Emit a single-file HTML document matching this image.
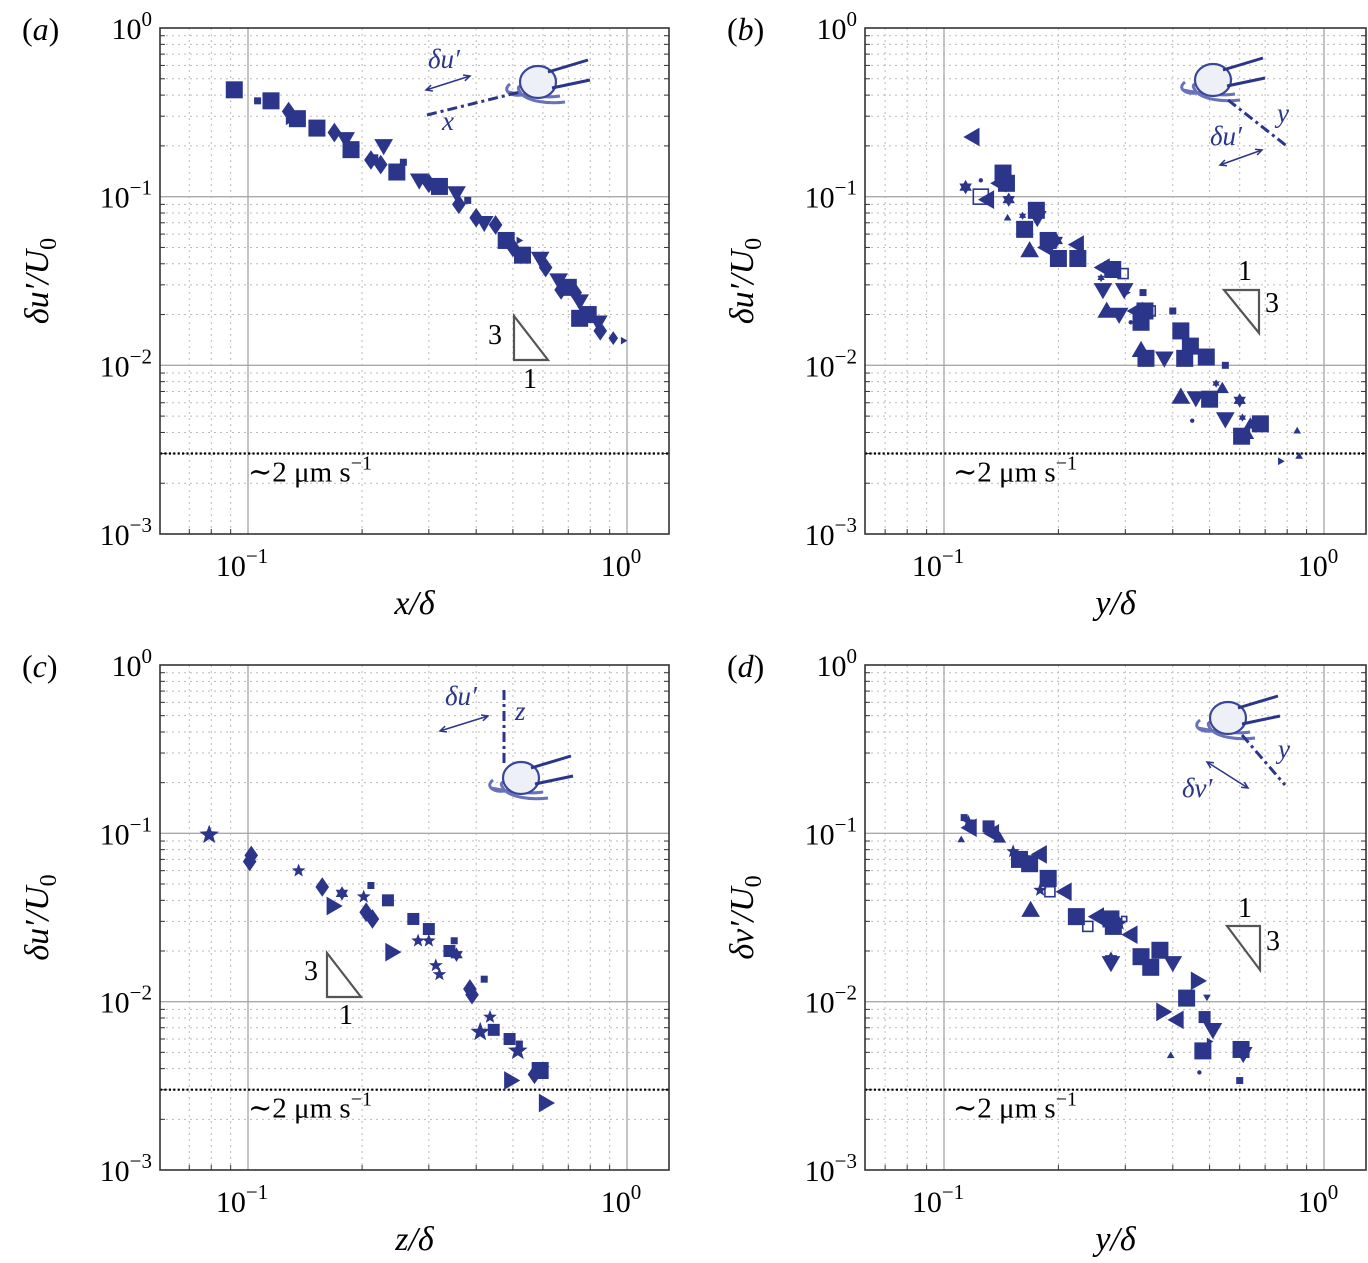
<!DOCTYPE html>
<html><head><meta charset="utf-8"><style>
html,body{margin:0;padding:0;background:#fff}
svg{display:block;font-family:"Liberation Serif","DejaVu Serif",serif}
</style></head><body>
<svg id="fig" width="1368" height="1263" viewBox="0 0 1368 1263"></svg>
<script>
// ---------- data ----------
const xTickVals = [0.1, 1];
const yTickVals = [1, 0.1, 0.01, 0.001];
const noiseLevel = 0.003;

const aX = [0.092,0.106,0.115,0.128,0.128,0.135,0.152,0.169,0.181,0.187,0.228,0.211,0.216,0.224,0.247,0.257,0.283,0.30,0.32,0.355,0.36,0.38,0.40,0.42,0.45,0.48,0.50,0.52,0.53,0.59,0.61,0.66,0.70,0.73,0.75,0.79,0.84,0.85,0.92,0.98,0.75,0.67];
const aY = [0.43,0.37,0.37,0.32,0.28,0.29,0.255,0.24,0.22,0.19,0.2,0.165,0.17,0.155,0.14,0.16,0.125,0.12,0.115,0.105,0.09,0.095,0.075,0.07,0.068,0.055,0.05,0.055,0.045,0.043,0.038,0.032,0.029,0.027,0.024,0.02,0.018,0.016,0.0145,0.014,0.019,0.028];
const aK = ["sL","sS","sL","dL","rS","sL","sL","dL","vL","sL","vL","dL","sS","dL","sL","sS","vL","dL","sL","vL","dL","sS","dL","vL","dL","sL","dL","rS","sL","vL","dL","vL","sL","dL","vL","sL","vL","dL","dM","rS","sL","dL"];

const bX = [0.119,0.114,0.143,0.140,0.146,0.125,0.130,0.148,0.161,0.147,0.175,0.176,0.163,0.168,0.188,0.186,0.198,0.224,0.225,0.200,0.262,0.278,0.296,0.259,0.262,0.298,0.303,0.334,0.268,0.289,0.320,0.349,0.338,0.40,0.33,0.33,0.34,0.38,0.42,0.445,0.43,0.49,0.55,0.52,0.54,0.42,0.46,0.50,0.60,0.55,0.61,0.64,0.68,0.607,0.64,0.85,0.86,0.77,0.45,0.125,0.31];
const bY = [0.226,0.114,0.138,0.12,0.12,0.1,0.096,0.096,0.077,0.075,0.083,0.075,0.064,0.048,0.055,0.05,0.055,0.052,0.043,0.043,0.038,0.037,0.035,0.033,0.028,0.028,0.027,0.027,0.021,0.02,0.021,0.021,0.021,0.021,0.018,0.0123,0.011,0.011,0.016,0.013,0.011,0.0112,0.01,0.0078,0.0073,0.0065,0.0064,0.0063,0.0062,0.0048,0.0049,0.0045,0.0045,0.0038,0.0038,0.0041,0.0029,0.0027,0.0047,0.125,0.018];
const bK = ["lL","hM","sL","lL","sL","oL","lL","hM","hS","uS","sL","vL","sL","uL","sL","lL","hM","lL","sL","sL","lL","sL","oM","hS","vL","vL","rS","sS","uL","vL","lL","oM","sL","sS","sL","uL","sL","vL","sL","sL","sL","sL","sS","hS","uM","uL","vL","sL","hM","vL","hS","uM","sL","sL","uS","uS","uS","rS",".",".","."];

const cX = [0.079,0.102,0.101,0.136,0.157,0.168,0.177,0.202,0.211,0.205,0.213,0.234,0.24,0.273,0.281,0.30,0.30,0.313,0.32,0.34,0.355,0.35,0.385,0.39,0.42,0.435,0.41,0.445,0.494,0.49,0.515,0.52,0.59,0.60,0.57,0.61];
const cY = [0.098,0.074,0.068,0.06,0.048,0.037,0.044,0.042,0.049,0.034,0.031,0.04,0.0197,0.031,0.023,0.027,0.023,0.0164,0.0145,0.020,0.019,0.023,0.0119,0.011,0.0136,0.0081,0.0066,0.0068,0.0034,0.006,0.0051,0.0056,0.0039,0.004,0.0037,0.0025];
const cK = ["pL","dL","dL","pM","dL","rL","hM","pM","sS","dL","dL","sM","rL","sM","pM","sM","pM","pM","pM","sM","hM","sS","dL","dL","sS","pM","pL","sM","rL","sM","pL","sS","sL","pM","dL","rL"];

const dX = [0.113,0.116,0.117,0.134,0.131,0.111,0.140,0.152,0.158,0.168,0.179,0.169,0.179,0.188,0.19,0.208,0.223,0.239,0.253,0.275,0.279,0.298,0.29,0.31,0.275,0.275,0.33,0.35,0.37,0.40,0.465,0.435,0.492,0.377,0.41,0.485,0.51,0.48,0.605,0.613,0.60,0.395,0.47,0.50];
const dY = [0.124,0.117,0.108,0.10,0.11,0.092,0.094,0.078,0.07,0.066,0.075,0.035,0.046,0.054,0.045,0.045,0.032,0.028,0.032,0.031,0.028,0.031,0.029,0.025,0.017,0.018,0.0185,0.016,0.0202,0.017,0.0133,0.0105,0.0106,0.0087,0.0078,0.0081,0.0068,0.0051,0.0052,0.0049,0.0034,0.0048,0.0038,0.0058];
const dK = ["sS","pM","lL","lL","sM","uS","uM","pM","sL","sL","lL","uL","pM","sL","oM","lL","sL","oM","lL","sL","sL","oS","pM","lL","vL","hM","sL","sL","sL","vL","rL","sL","vS","rL","lL","sM","vL","sL","sL","vL","sS","uS",".","rS"];

// ---------- drawing ----------
const NS = "http://www.w3.org/2000/svg";
const svg = document.getElementById("fig");
const COL = "#2b3589";
function el(tag, attrs, parent) {
  const e = document.createElementNS(NS, tag);
  for (const k in attrs) e.setAttribute(k, attrs[k]);
  (parent || svg).appendChild(e);
  return e;
}
function makeX(x10m1, x100) { return v => x10m1 + (Math.log10(v) + 1) * (x100 - x10m1); }
function makeY(y0, y3) { return v => y0 - Math.log10(v) * (y3 - y0) / 3; }

function marker(g, kind, cx, cy) {
  const t = kind[0], sz = kind[1] === "L" ? 17 : (kind[1] === "M" ? 12 : 7);
  const h = sz / 2;
  let m;
  if (t === "s") m = el("rect", {x: cx-h, y: cy-h, width: sz, height: sz, fill: COL}, g);
  else if (t === "o") m = el("rect", {x: cx-h+1, y: cy-h+1, width: sz-2, height: sz-2, fill: "none", stroke: COL, "stroke-width": 1.6}, g);
  else if (t === "d") m = el("polygon", {points: `${cx},${cy-h*1.15} ${cx+h*0.8},${cy} ${cx},${cy+h*1.15} ${cx-h*0.8},${cy}`, fill: COL}, g);
  else if (t === "v") m = el("polygon", {points: `${cx-h*1.1},${cy-h*0.8} ${cx+h*1.1},${cy-h*0.8} ${cx},${cy+h*1.1}`, fill: COL}, g);
  else if (t === "u") m = el("polygon", {points: `${cx-h*1.1},${cy+h*0.8} ${cx+h*1.1},${cy+h*0.8} ${cx},${cy-h*1.1}`, fill: COL}, g);
  else if (t === "l") m = el("polygon", {points: `${cx+h*0.8},${cy-h*1.1} ${cx+h*0.8},${cy+h*1.1} ${cx-h*1.1},${cy}`, fill: COL}, g);
  else if (t === "r") m = el("polygon", {points: `${cx-h*0.8},${cy-h*1.1} ${cx-h*0.8},${cy+h*1.1} ${cx+h*1.1},${cy}`, fill: COL}, g);
  else if (t === "p" || t === "h") {
    let pts = [];
    const n = t === "p" ? 5 : 6, R = h * 1.2, r = t === "p" ? R * 0.42 : R * 0.58;
    for (let i = 0; i < 2 * n; i++) {
      const a = -Math.PI / 2 + i * Math.PI / n, rr = i % 2 ? r : R;
      pts.push((cx + rr * Math.cos(a)).toFixed(1) + "," + (cy + rr * Math.sin(a)).toFixed(1));
    }
    m = el("polygon", {points: pts.join(" "), fill: COL}, g);
  } else m = el("circle", {cx: cx, cy: cy, r: 2.2, fill: COL}, g);
  
  
}

function panel(cfg) {
  const g = el("g", {});
  
  
  const X = makeX(cfg.x1, cfg.x2), Y = makeY(cfg.y0, cfg.y3);
  const L = cfg.L, R = cfg.R, T = cfg.y0, B = cfg.y3;
  [0.07,0.08,0.09,0.2,0.3,0.4,0.5,0.6,0.7,0.8,0.9].forEach(v => {
    const x = X(v); if (x > L && x < R) {
      const ln = el("line", {x1: x, y1: T, x2: x, y2: B, stroke: "#bbb", "stroke-width": 1, "stroke-dasharray": "2,4"}, g);
      
      
      el("line", {x1: x, y1: B, x2: x, y2: B-5, stroke: "#333"}, g);
    }
  });
  [1,0.1,0.01].forEach(dec => { for (let k = 2; k <= 9; k++) {
    const yy = Y(dec / 10 * k);
    if (yy > T && yy < B) {
      const ln = el("line", {x1: L, y1: yy, x2: R, y2: yy, stroke: "#bbb", "stroke-width": 1, "stroke-dasharray": "2,4"}, g);
      
      
      el("line", {x1: L, y1: yy, x2: L+5, y2: yy, stroke: "#333"}, g);
      el("line", {x1: R, y1: yy, x2: R-5, y2: yy, stroke: "#333"}, g);
    }
  }});
  xTickVals.forEach(v => {
    const x = X(v);
    const ln = el("line", {x1: x, y1: T, x2: x, y2: B, stroke: "#aaa", "stroke-width": 1.4}, g);
    
    
    const tx = el("text", {x: x - 6, y: B + 42, "font-size": 30, "text-anchor": "middle"}, g);
    
    
    const e = Math.round(Math.log10(v));
    tx.innerHTML = `10<tspan dy="-13" font-size="21">${e < 0 ? "\u2212" + (-e) : e}</tspan>`;
  });
  yTickVals.forEach(v => {
    const y = Y(v);
    if (y > T + 1 && y < B - 1) {
      const ln = el("line", {x1: L, y1: y, x2: R, y2: y, stroke: "#aaa", "stroke-width": 1.4}, g);
      
      
    }
    const tx = el("text", {x: L - 8, y: y + 11, "font-size": 30, "text-anchor": "end"}, g);
    
    
    const e = Math.round(Math.log10(v));
    tx.innerHTML = `10<tspan dy="-13" font-size="21">${e < 0 ? "\u2212" + (-e) : e}</tspan>`;
  });
  const ny = Y(noiseLevel);
  const nl = el("line", {x1: L, y1: ny, x2: R, y2: ny, stroke: "#000", "stroke-width": 2.2, "stroke-dasharray": "2.2,2.2"}, g);
  
  
  const nt = el("text", {x: L + 88, y: ny + 28, "font-size": 29}, g);
  
  
  nt.innerHTML = `∼2 μm s<tspan dy="-12" font-size="20">−1</tspan>`;
  const fr = el("rect", {x: L, y: T, width: R - L, height: B - T, fill: "none", stroke: "#333", "stroke-width": 1.6}, g);
  
  
  cfg.xs.forEach((v, i) => marker(g, cfg.ks[i], X(v), Y(cfg.ys[i])));
  const pl = el("text", {x: cfg.L - 138, y: T + 12, "font-size": 32}, g);
  
  
  pl.innerHTML = `(<tspan font-style="italic">${cfg.id}</tspan>)`;
  const xt = el("text", {x: (L + R) / 2, y: B + 80, "font-size": 34, "font-style": "italic", "text-anchor": "middle"}, g);
  
  
  xt.textContent = cfg.xl + "/δ";
  const yt = el("text", {x: 0, y: 0, "font-size": 34, "font-style": "italic", "text-anchor": "middle",
    transform: `translate(${L - 112},${(T + B) / 2}) rotate(-90)`}, g);
  
  
  yt.innerHTML = `δ${cfg.yl}′/U<tspan dy="8" font-size="24" font-style="normal">0</tspan>`;
  const s = cfg.tri;
  const tr = el("polygon", {points: s.pts, fill: "none", stroke: "#555", "stroke-width": 2.2}, g);
  
  
  s.labels.forEach(lb => {
    const t = el("text", {x: lb[0], y: lb[1], "font-size": 28}, g);
    
    
    t.textContent = lb[2];
  });
  const ins = el("g", {}, g);
  
  
  const c = cfg.ins;
  el("path", {d: `M${c.ex-28},${c.ey+2} c-10,8 5,14 16,10 c10,-4 -14,-14 -6,-2 c6,10 30,12 45,10 M${c.ex-30},${c.ey+10} c20,4 40,6 52,4`, fill: "none", stroke: "#6872b8", "stroke-width": 3}, ins);
  el("ellipse", {cx: c.ex, cy: c.ey, rx: 18, ry: 16, fill: "#eef0f8", stroke: "#3a469a", "stroke-width": 2.2}, ins);
  el("path", {d: `M${c.ex+10},${c.ey-10} L${c.ex+50},${c.ey-22} M${c.ex+14},${c.ey+6} L${c.ex+52},${c.ey-2}`, fill: "none", stroke: "#2b3589", "stroke-width": 3}, ins);
  el("line", {x1: c.d[0], y1: c.d[1], x2: c.d[2], y2: c.d[3], stroke: COL, "stroke-width": 3, "stroke-dasharray": "10,4,3,4"}, ins);
  el("path", {d: `M${c.a[0]},${c.a[1]} L${c.a[2]},${c.a[3]}`, stroke: COL, "stroke-width": 1.5, fill: "none"}, ins);
  const ang = Math.atan2(c.a[3]-c.a[1], c.a[2]-c.a[0]);
  [[c.a[2],c.a[3],ang],[c.a[0],c.a[1],ang+Math.PI]].forEach(p => {
    el("path", {d: `M${p[0]-7*Math.cos(p[2]-0.45)},${p[1]-7*Math.sin(p[2]-0.45)} L${p[0]},${p[1]} L${p[0]-7*Math.cos(p[2]+0.45)},${p[1]-7*Math.sin(p[2]+0.45)}`, stroke: COL, "stroke-width": 1.5, fill: "none"}, ins);
  });
  const t1 = el("text", {x: c.t1[0], y: c.t1[1], "font-size": 27, "font-style": "italic", fill: COL}, ins);
  t1.textContent = c.t1[2];
  const t2 = el("text", {x: c.t2[0], y: c.t2[1], "font-size": 27, "font-style": "italic", fill: COL}, ins);
  t2.textContent = c.t2[2];
}

panel({id: "a", L: 160, R: 669, x1: 248, x2: 627, y0: 28, y3: 534, xs: aX, ys: aY, ks: aK, xl: "x", yl: "u",
  tri: {pts: "514,316 514,360 548,360", labels: [[488,344,"3"],[523,388,"1"]]},
  ins: {ex: 538, ey: 82, d: [427,115,520,92], a: [426,90,470,76], t1: [428,68,"δu′"], t2: [442,130,"x"]}});
panel({id: "b", L: 865, R: 1366, x1: 944, x2: 1324, y0: 28, y3: 534, xs: bX, ys: bY, ks: bK, xl: "y", yl: "u",
  tri: {pts: "1224,290 1259,290 1259,333", labels: [[1238,280,"1"],[1265,312,"3"]]},
  ins: {ex: 1213, ey: 80, d: [1228,100,1288,147], a: [1220,165,1262,150], t1: [1210,145,"δu′"], t2: [1277,122,"y"]}});
panel({id: "c", L: 160, R: 669, x1: 248, x2: 627, y0: 665, y3: 1170, xs: cX, ys: cY, ks: cK, xl: "z", yl: "u",
  tri: {pts: "327,953 327,997 361,997", labels: [[304,980,"3"],[339,1024,"1"]]},
  ins: {ex: 521, ey: 778, d: [504,690,504,765], a: [440,731,488,716], t1: [445,705,"δu′"], t2: [515,720,"z"]}});
panel({id: "d", L: 865, R: 1366, x1: 944, x2: 1324, y0: 665, y3: 1170, xs: dX, ys: dY, ks: dK, xl: "y", yl: "v",
  tri: {pts: "1227,926 1260,926 1260,970", labels: [[1238,917,"1"],[1266,950,"3"]]},
  ins: {ex: 1228, ey: 718, d: [1242,735,1285,785], a: [1207,762,1248,788], t1: [1182,797,"δv′"], t2: [1278,758,"y"]}});
</script>
</body></html>
